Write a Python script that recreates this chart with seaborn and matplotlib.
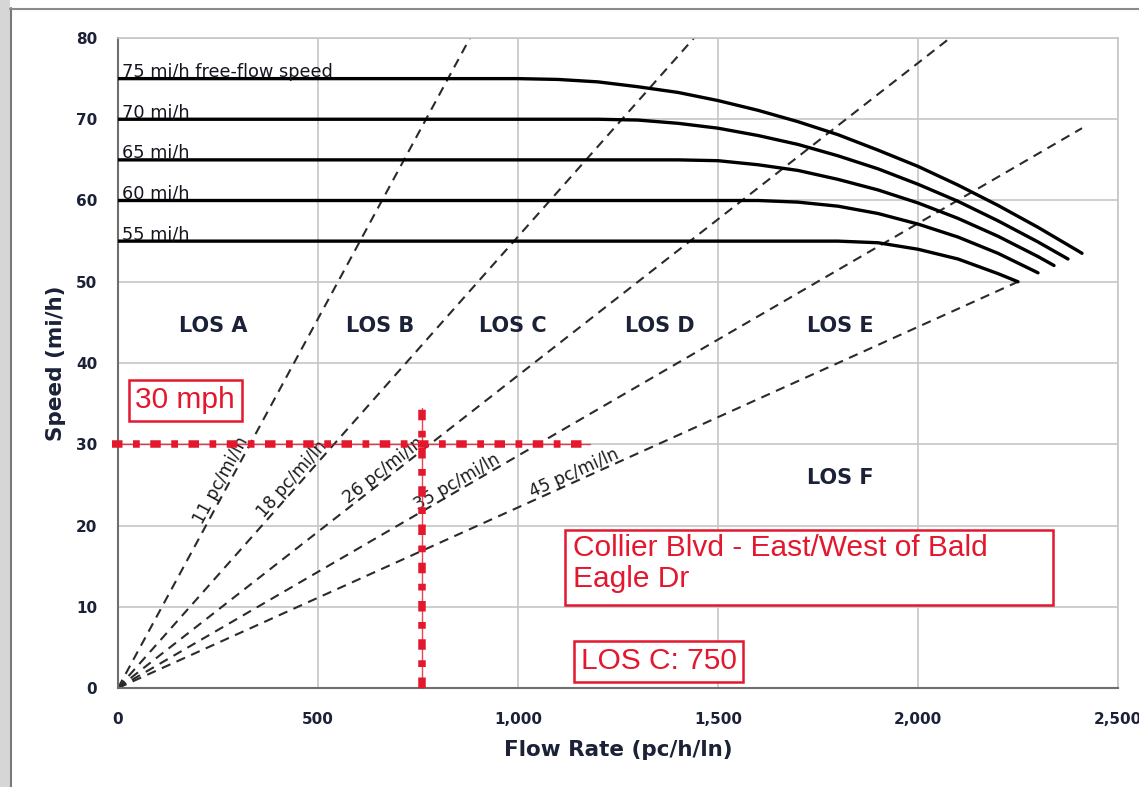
import numpy as np
import pandas as pd
import seaborn as sns
import matplotlib.pyplot as plt
from matplotlib.patches import Rectangle
from matplotlib.lines import Line2D
from matplotlib.ticker import FuncFormatter, MultipleLocator

# speed-flow curves (flow pc/h/ln -> speed mi/h)
ffs = [75, 70, 65, 60, 55]
ffs_labels = ["75 mi/h free-flow speed", "70 mi/h", "65 mi/h", "60 mi/h", "55 mi/h"]

flow_75 = [0, 1000, 1100, 1200, 1300, 1400, 1500, 1600, 1700, 1800, 1900, 2000, 2100, 2200, 2300, 2400, 2410]
speed_75 = [75, 75, 74.9, 74.6, 74.0, 73.3, 72.3, 71.1, 69.7, 68.1, 66.2, 64.2, 61.9, 59.4, 56.7, 53.8, 53.5]
flow_70 = [0, 1200, 1300, 1400, 1500, 1600, 1700, 1800, 1900, 2000, 2100, 2200, 2300, 2375]
speed_70 = [70, 70, 69.9, 69.5, 68.9, 68.0, 66.9, 65.5, 63.9, 62.0, 59.9, 57.5, 54.9, 52.8]
flow_65 = [0, 1400, 1500, 1600, 1700, 1800, 1900, 2000, 2100, 2200, 2300, 2340]
speed_65 = [65, 65, 64.9, 64.4, 63.7, 62.6, 61.3, 59.7, 57.8, 55.6, 53.1, 52.0]
flow_60 = [0, 1600, 1700, 1800, 1900, 2000, 2100, 2200, 2300]
speed_60 = [60, 60, 59.8, 59.3, 58.4, 57.1, 55.5, 53.5, 51.1]
flow_55 = [0, 1800, 1900, 2000, 2100, 2200, 2250]
speed_55 = [55, 55, 54.8, 54.0, 52.8, 51.0, 50.0]

# density boundary lines (start at origin)
density = [11, 18, 26, 35, 45]
dens_end_flow = [880, 1440, 2080, 2410, 2250]
dens_end_speed = [80, 80, 80, 68.9, 50.0]
dens_label_flow = [275, 450, 676, 858, 1148]
dens_label_speed = [25.0, 25.0, 26.0, 24.5, 25.5]

# LOS region labels
los_labels = ["LOS A", "LOS B", "LOS C", "LOS D", "LOS E", "LOS F"]
los_flow = [237, 655, 988, 1355, 1805, 1805]
los_speed = [44.6, 44.6, 44.6, 44.6, 44.6, 25.8]

# site annotation
ref_speed = 30
ref_flow = 760
ref_h_flow = [-15, 1180]
ref_v_speed = [0, 34.5]
site_name = "Collier Blvd - East/West of Bald\nEagle Dr"
site_result = "LOS C: 750"
speed_note = "30 mph"

navy = "#1b2238"
red = "#e3172d"

sns.set_style("white")
plt.rcParams["font.family"] = ["DejaVu Sans"]

fig = plt.figure(figsize=(11.39, 7.87), dpi=100)
ax = fig.add_axes([118 / 1139, 99 / 787, 1000 / 1139, 650 / 787])
ax.set_xlim(0, 2500)
ax.set_ylim(0, 80)

# frame of the screenshot
fig.patches.append(Rectangle((0, 0), 10 / 1139, 1, transform=fig.transFigure,
                             facecolor="#d6d6d6", edgecolor="none"))
fig.lines.append(Line2D([10.5 / 1139, 10.5 / 1139], [0, 1 - 8 / 787], transform=fig.transFigure,
                        color="#7a7a7a", lw=1.5))
fig.lines.append(Line2D([10 / 1139, 1], [1 - 9 / 787, 1 - 9 / 787], transform=fig.transFigure,
                        color="#8a8a8a", lw=1.5))

# curves
curve_flows = [flow_75, flow_70, flow_65, flow_60, flow_55]
curve_speeds = [speed_75, speed_70, speed_65, speed_60, speed_55]
df_curves = pd.concat([pd.DataFrame({"flow": f, "speed": s, "ffs": v})
                       for f, s, v in zip(curve_flows, curve_speeds, ffs)])
sns.lineplot(data=df_curves, x="flow", y="speed", units="ffs", estimator=None, sort=False,
             color="black", lw=2.4, solid_capstyle="round", ax=ax, zorder=3)

df_dens = pd.concat([pd.DataFrame({"flow": [0, f], "speed": [0, s], "density": d})
                     for f, s, d in zip(dens_end_flow, dens_end_speed, density)])
sns.lineplot(data=df_dens, x="flow", y="speed", units="density", estimator=None, sort=False,
             color="#2a2a2a", lw=1.5, linestyle=(0, (4.5, 3.2)), ax=ax, zorder=2)

for lab, v in zip(ffs_labels, ffs):
    ax.text(10, v + 0.25, lab, fontsize=12.8, color="#15151f", va="baseline", ha="left", zorder=4)

for d, fx, sy, ex, ey in zip(density, dens_label_flow, dens_label_speed, dens_end_flow, dens_end_speed):
    ang = ax.transData.transform_angles(np.array([np.degrees(np.arctan2(ey, ex))]),
                                        np.array([[fx, sy]]))[0]
    nx, ny = -np.sin(np.radians(ang)), np.cos(np.radians(ang))
    ax.annotate(f"{d} pc/mi/ln", xy=(fx, sy), xytext=(2.5 * nx, 2.5 * ny), textcoords="offset points",
                rotation=ang, rotation_mode="anchor", ha="center", va="baseline",
                fontsize=12.3, color="#1a1a1a", zorder=4)

for lab, fx, sy in zip(los_labels, los_flow, los_speed):
    ax.text(fx, sy, lab, fontsize=15, fontweight="bold", color=navy, ha="center", va="center", zorder=4)

# red reference lines
for xs, ys in [(ref_h_flow, [ref_speed, ref_speed]), ([ref_flow, ref_flow], ref_v_speed)]:
    ax.plot(xs, ys, color=red, lw=1.0, alpha=0.8, zorder=5, clip_on=False)
    ax.plot(xs, ys, color=red, lw=5.4, linestyle=(0, (1.4, 1.4, 0.9, 1.4)),
            dash_capstyle="butt", zorder=5, clip_on=False)

red_font = dict(family=["Liberation Sans", "DejaVu Sans"], color=red, fontsize=21.5)
ax.text(168, 35.4, speed_note, ha="center", va="center", zorder=6,
        bbox=dict(boxstyle="square,pad=0.22", fc="white", ec=red, lw=1.8), **red_font)
ax.add_patch(Rectangle((1118, 10.2), 1220, 9.25, facecolor="white", edgecolor=red, lw=1.8, zorder=6))
ax.text(1137, 18.9, site_name, ha="left", va="top", linespacing=1.12, zorder=7, **red_font)
ax.text(1352, 3.3, site_result, ha="center", va="center", zorder=6,
        bbox=dict(boxstyle="square,pad=0.22", fc="white", ec=red, lw=1.8), **red_font)

# axes styling
ax.xaxis.set_major_locator(MultipleLocator(500))
ax.yaxis.set_major_locator(MultipleLocator(10))
ax.xaxis.set_major_formatter(FuncFormatter(lambda v, p: f"{v:,.0f}"))
ax.grid(True, color="#c6c6c6", lw=1.2)
ax.set_axisbelow(True)
for side in ["left", "bottom"]:
    ax.spines[side].set_color("#6e6e6e")
    ax.spines[side].set_linewidth(1.5)
for side in ["top", "right"]:
    ax.spines[side].set_color("#c6c6c6")
    ax.spines[side].set_linewidth(1.2)
ax.tick_params(direction="out", length=5, width=1.2, color="#6e6e6e", labelsize=11, labelcolor=navy)
ax.tick_params(axis="x", pad=12)
ax.tick_params(axis="y", pad=10)
for t in ax.get_xticklabels() + ax.get_yticklabels():
    t.set_fontweight("bold")
ax.set_xlabel("Flow Rate (pc/h/ln)", fontsize=15.5, fontweight="bold", color=navy, labelpad=10)
ax.set_ylabel("Speed (mi/h)", fontsize=15.5, fontweight="bold", color=navy, labelpad=7)

plt.savefig("out.png", dpi=100)
